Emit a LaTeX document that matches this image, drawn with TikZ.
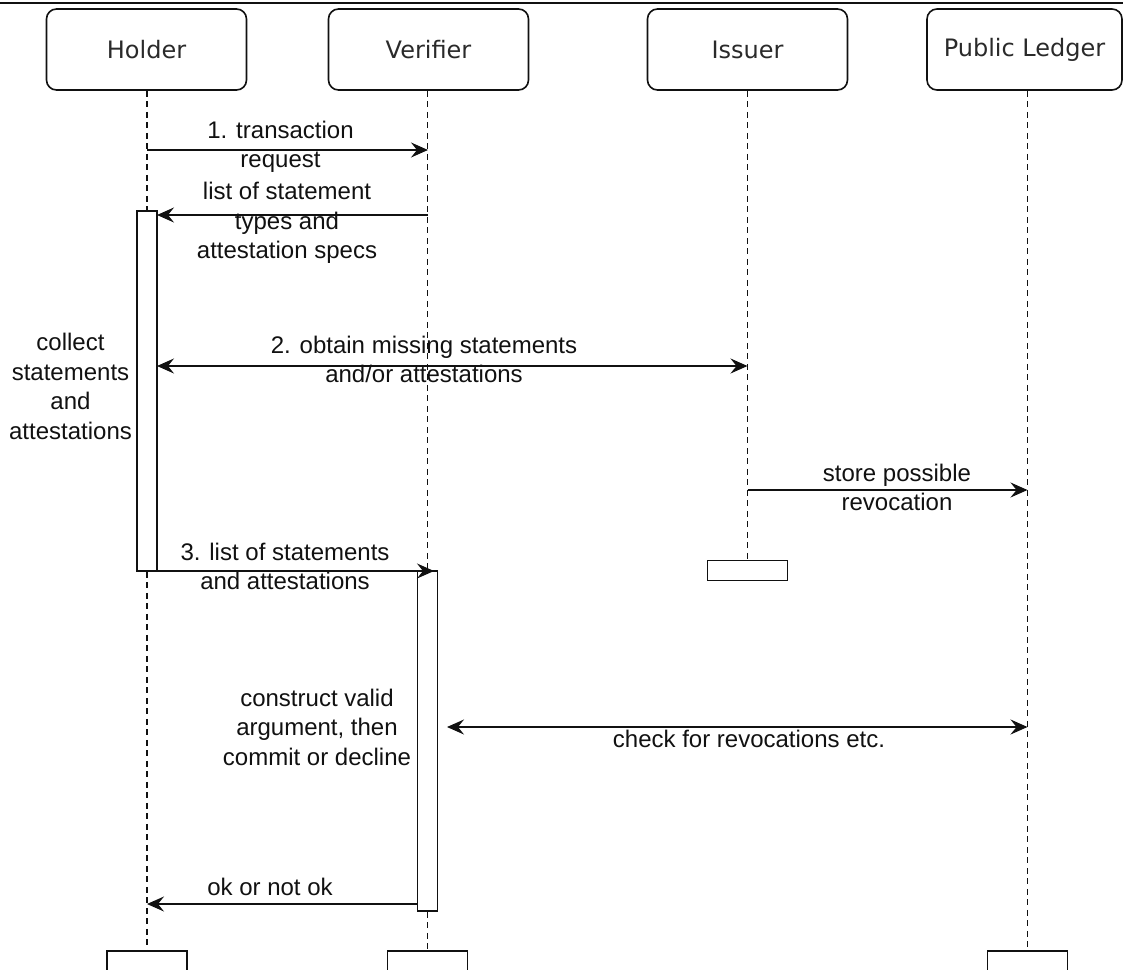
\documentclass[tikz,border=0pt]{standalone}
\usepackage{fontspec}
\setmainfont{Liberation Sans}
\newfontfamily\titlefont{DejaVu Sans}
\usetikzlibrary{arrows.meta}
\definecolor{ink}{HTML}{111111}
\definecolor{titleink}{HTML}{2A2A2A}
\tikzset{
  x=1pt, y=-1pt,
  tipshape/.tip={Stealth[length=17pt,width=15pt,inset=6pt]},
  actor/.style={draw=ink, line width=1.6pt, rounded corners=10pt,
    minimum width=200pt, minimum height=81pt, inner sep=0pt,
    font=\titlefont\fontsize{24}{29.5}\selectfont, text=titleink},
  endbox/.style={draw=ink, line width=1.6pt, minimum width=80pt,
    minimum height=40pt, anchor=north, inner sep=0pt},
  activation/.style={draw=ink, line width=1.6pt, fill=white,
    minimum width=20pt, inner sep=0pt},
  lifeline/.style={draw=ink, line width=1.4pt, dash pattern=on 6pt off 4.5pt},
  msg/.style={draw=ink, line width=1.6pt, -tipshape},
  msgboth/.style={draw=ink, line width=1.6pt, tipshape-tipshape},
  % the base anchor of these labels is the baseline of their last line
  lbl/.style={font=\fontsize{24}{29.5}\selectfont, align=center,
    inner sep=0pt, anchor=base, text=ink},
}
\begin{document}
\begin{tikzpicture}
\useasboundingbox (0,0) rectangle (1123,969);
\clip (0,0) rectangle (1123,969);

% top rule
\coordinate (ruleL) at (0,3);
\coordinate (ruleR) at (1123,3);
\draw[draw=ink, line width=1.8pt] (ruleL) -- (ruleR);

% participants
\node[actor] (holder)   at (146.5,49.5) {Holder};
\node[actor] (verifier) at (428.5,49.5) {Verifier};
\node[actor] (issuer)   at (747.5,49.5) {Issuer};
\node[actor, minimum width=195pt] (ledger) at (1024.5,49.5) {Public Ledger};

% end boxes of the lifelines
\node[endbox] (holderEnd)   at (147,950) {};
\node[endbox] (verifierEnd) at (427.5,950) {};
\node[endbox] (ledgerEnd)   at (1027.5,950) {};

% activation bars (positions only; drawn after the lifelines)
\path (147,391)     node[activation, minimum height=360pt, draw=none, fill=none] (holderAct) {};
\path (427.5,741)   node[activation, minimum height=340pt, draw=none, fill=none] (verifierAct) {};
\path (747.5,570.5) node[activation, minimum width=80pt, minimum height=20pt, draw=none, fill=none] (issuerAct) {};

% lifelines
\draw[lifeline] (holderAct.north |- holder.south) -- (holderAct.north);
\draw[lifeline] (holderAct.south) -- (holderEnd.north);
\draw[lifeline] (verifierAct.north |- verifier.south) -- (verifierAct.north);
\draw[lifeline] (verifierAct.south) -- (verifierEnd.north);
\draw[lifeline] (issuerAct.north |- issuer.south) -- (issuerAct.north);
\draw[lifeline] (ledgerEnd.north |- ledger.south) -- (ledgerEnd.north);

% activation bars
\node[activation, minimum height=360pt] at (holderAct) {};
\node[activation, minimum height=340pt] at (verifierAct) {};
\node[activation, minimum width=80pt, minimum height=20pt] at (issuerAct) {};

% message end points
\coordinate (m1s) at (147,150);   \coordinate (m1e) at (428,150);
\coordinate (m2s) at (428,215);   \coordinate (m2e) at (157,215);
\coordinate (m3s) at (157,366);   \coordinate (m3e) at (747.5,366);
\coordinate (m4s) at (747.5,490); \coordinate (m4e) at (1027.5,490);
\coordinate (m5s) at (157,571);   \coordinate (m5e) at (434,571);
\coordinate (m6s) at (447,727);   \coordinate (m6e) at (1027.5,727);
\coordinate (m7s) at (417.5,904); \coordinate (m7e) at (147,904);

% messages
\draw[msg]     (m1s) -- (m1e);
\draw[msg]     (m2s) -- (m2e);
\draw[msgboth] (m3s) -- (m3e);
\draw[msg]     (m4s) -- (m4e);
\draw[msg]     (m5s) -- (m5e);
\draw[msgboth] (m6s) -- (m6e);
\draw[msg]     (m7s) -- (m7e);

% labels
\node[lbl] (t1) at (280.5,167.5) {1. transaction\\request};
\node[lbl] (t2) at (287,258.5) {list of statement\\types and\\attestation specs};
\node[lbl] (t3) at (424,382.5) {2. obtain missing statements\\and/or attestations};
\node[lbl] (t4) at (70.5,439) {collect\\statements\\and\\attestations};
\node[lbl] (t5) at (897,510.5) {store possible\\revocation};
\node[lbl] (t6) at (285,589.5) {3. list of statements\\and attestations};
\node[lbl] (t7) at (317,765) {construct valid\\argument, then\\commit or decline};
\node[lbl] (t8) at (749,747) {check for revocations etc.};
\node[lbl] (t9) at (270,895) {ok or not ok};
\end{tikzpicture}
\end{document}
